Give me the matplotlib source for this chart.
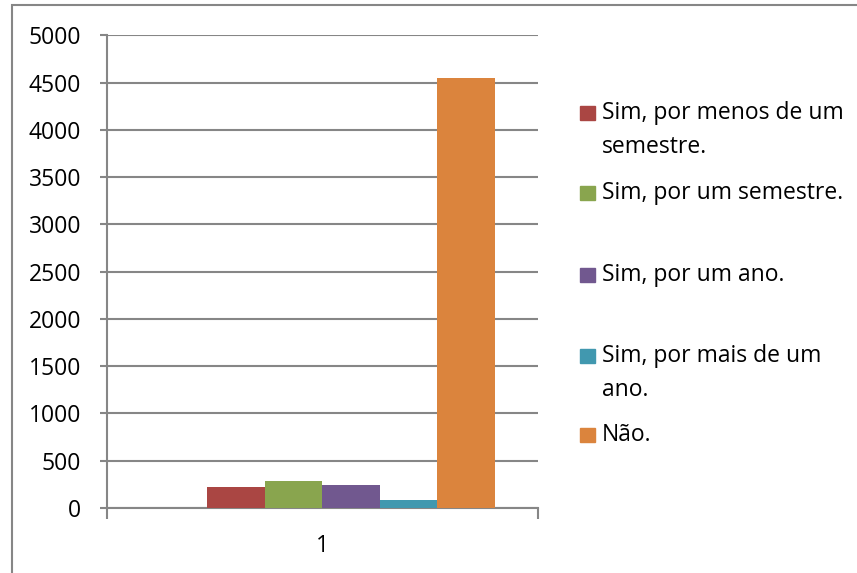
import matplotlib
matplotlib.use("Agg")
import matplotlib.pyplot as plt
from matplotlib.patches import Rectangle

plt.rcParams['font.family'] = ['Open Sans', 'DejaVu Sans']

# data
categories = ["1"]
series_names = ["Sim, por menos de um\nsemestre.",
                "Sim, por um semestre.",
                "Sim, por um ano.",
                "Sim, por mais de um\nano.",
                "Não."]
series_values = [220, 285, 240, 85, 4545]
series_colors = ["#AA4643", "#89A54E", "#71588F", "#4198AF", "#DB843D"]
y_ticks = [0, 500, 1000, 1500, 2000, 2500, 3000, 3500, 4000, 4500, 5000]

W, H = 857, 573
fig = plt.figure(figsize=(W / 100, H / 100), dpi=100)
ax = fig.add_axes([107 / W, 1 - 508 / H, (537.7 - 107) / W, (508 - 35.3) / H])

grey = "#868686"
fs = 16.5

# excel leaves one empty slot in front of the first series, gap width 150%
n_slots = len(series_values) + 1
bw = 1 / (n_slots + 1.5)
start = 0.5 + 0.75 * bw
for i, (name, val, col) in enumerate(zip(series_names, series_values, series_colors)):
    x = start + (i + 1.5) * bw
    ax.bar(x, val, width=bw, color=col, zorder=3)

ax.set_xlim(0.5, 1.5)
ax.set_ylim(0, 5000)
ax.set_yticks(y_ticks)
ax.set_yticklabels([str(t) for t in y_ticks], fontsize=fs)
ax.set_xticks([1])
ax.set_xticklabels(categories, fontsize=fs)
ax.set_xticks([0.5, 1.5], minor=True)
ax.tick_params(axis='x', which='major', length=0, pad=19)
ax.tick_params(axis='x', which='minor', length=8, width=1.5, color=grey, direction='out')
ax.tick_params(axis='y', length=5, width=1.5, color=grey, pad=13.5)
ax.grid(axis='y', color=grey, lw=1.5, zorder=1)
for s in ['top', 'right']:
    ax.spines[s].set_visible(False)
for s in ['left', 'bottom']:
    ax.spines[s].set_color(grey)
    ax.spines[s].set_linewidth(1.5)

# legend, laid out like the excel one
leg_y = [113, 193, 275, 356, 435]
line_h = 34
for name, col, y in zip(series_names, series_colors, leg_y):
    fig.patches.append(Rectangle((580 / W, 1 - (y + 7) / H), 15 / W, 14 / H,
                                 transform=fig.transFigure, color=col))
    for j, line in enumerate(name.split("\n")):
        fig.text(602 / W, 1 - (y + j * line_h) / H, line, fontsize=fs,
                 va='center', ha='left')

# chart area border
fig.patches.append(Rectangle((11.5 / W, -0.1), 1.2, 1.1 - 5.5 / H,
                             transform=fig.transFigure, fill=False,
                             edgecolor=grey, lw=1.5))

fig.savefig("out.png", dpi=100)
